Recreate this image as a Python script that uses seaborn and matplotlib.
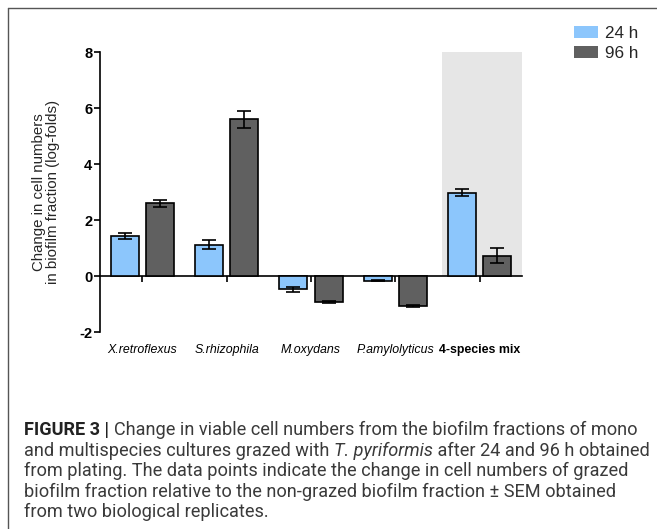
import matplotlib
matplotlib.use('Agg')
import matplotlib.pyplot as plt
from matplotlib.lines import Line2D
import pandas as pd
import seaborn as sns

# values (log-fold change, +/- SEM)
species = ['X.retroflexus', 'S.rhizophila', 'M.oxydans', 'P.amylolyticus', '4-species mix']
times = ['24 h', '96 h']
mean_24h = [1.42, 1.12, -0.48, -0.17, 2.97]
sem_24h = [0.10, 0.17, 0.08, 0.02, 0.12]
mean_96h = [2.60, 5.60, -0.93, -1.08, 0.73]
sem_96h = [0.12, 0.30, 0.02, 0.04, 0.28]
y_ticks = [-2, 0, 2, 4, 6, 8]

caption_lines = [
    [('FIGURE 3 | ', 'bold', 'normal'),
     ('Change in viable cell numbers from the biofilm fractions of mono', 'normal', 'normal')],
    [('and multispecies cultures grazed with ', 'normal', 'normal'),
     ('T. pyriformis', 'normal', 'italic'),
     (' after 24 and 96 h obtained', 'normal', 'normal')],
    [('from plating. The data points indicate the change in cell numbers of grazed', 'normal', 'normal')],
    [('biofilm fraction relative to the non-grazed biofilm fraction \u00b1 SEM obtained', 'normal', 'normal')],
    [('from two biological replicates.', 'normal', 'normal')],
]

df = pd.DataFrame({
    'species': species * 2,
    'time': [times[0]] * len(species) + [times[1]] * len(species),
    'value': mean_24h + mean_96h,
    'sem': sem_24h + sem_96h,
})

sns.set_theme(style='ticks')
plt.rcParams['font.family'] = ['Liberation Sans', 'DejaVu Sans']

fig = plt.figure(figsize=(6.57, 5.29), dpi=100)
ax = fig.add_axes([0.1522, 0.3724, 0.6423, 0.5293])

palette = {'24 h': '#8cc6fc', '96 h': '#606060'}
sns.barplot(data=df, x='species', y='value', hue='time', order=species,
            hue_order=times, palette=palette, errorbar=None, width=0.833,
            gap=0.2, edgecolor='black', linewidth=1.2, saturation=1,
            legend=False, ax=ax, zorder=3)

# error bars on the bars seaborn drew
for cont, t in zip(ax.containers, times):
    sub = df[df['time'] == t].set_index('species').loc[species]
    xs = [p.get_x() + p.get_width() / 2 for p in cont.patches]
    ax.errorbar(xs, sub['value'], yerr=sub['sem'], fmt='none', ecolor='black',
                elinewidth=1.2, capsize=4.8, capthick=1.2, zorder=4)

# grey background for the mixed culture
ax.axvspan(3.55, 4.5, ymin=0.2, ymax=1.0, color='#e6e6e6', lw=0, zorder=0)

ax.set_xlim(-0.5, 4.5)
ax.set_ylim(-2, 8)
ax.set_yticks(y_ticks)
ax.set_yticklabels([str(v) for v in y_ticks], fontweight='bold', fontsize=10.5)
ax.set_xlabel('')
ax.set_ylabel('Change in cell numbers\nin biofilm fraction (log-folds)',
              fontsize=10.8, labelpad=14, linespacing=1.0)

sns.despine(ax=ax, top=True, right=True)
ax.spines['bottom'].set_position(('data', 0))
for s in ['left', 'bottom']:
    ax.spines[s].set_linewidth(1.2)
    ax.spines[s].set_color('black')
ax.tick_params(axis='y', length=4, width=1.2, pad=1.5, colors='black')
ax.tick_params(axis='x', length=4, width=1.2, pad=45, colors='black')
ax.set_xticks(range(len(species)))
ax.set_xticklabels(species, fontsize=8.9)
for i, lab in enumerate(ax.get_xticklabels()):
    if i == len(species) - 1:
        lab.set_fontweight('bold')
    else:
        lab.set_fontstyle('italic')

handles = [plt.Rectangle((0, 0), 1, 1, fc=palette[t], ec='none') for t in times]
fig.legend(handles, times, loc='upper left', bbox_to_anchor=(0.873, 0.951),
           frameon=False, fontsize=12.3, handlelength=1.42, handleheight=0.65,
           handletextpad=0.4, labelspacing=0.3, borderpad=0, borderaxespad=0)

# page frame around the figure
fig.add_artist(Line2D([8 / 657, 1.0], [1 - 8 / 529] * 2, color='#555555', lw=1.0))
fig.add_artist(Line2D([8 / 657] * 2, [1 - 8 / 529, 0.0], color='#555555', lw=1.0))

# caption, drawn run by run
fig.canvas.draw()
renderer = fig.canvas.get_renderer()
cap_font = ['Roboto', 'DejaVu Sans']
y0 = 430
for k, runs in enumerate(caption_lines):
    x = 24 / 657
    y = 1 - (y0 + k * 20.5) / 529
    for txt, weight, style in runs:
        t = fig.text(x, y, txt, fontsize=13.1, fontweight=weight, fontstyle=style,
                     family=cap_font, color='#222222' if weight == 'bold' else '#3a3a3a',
                     va='center', ha='left')
        bb = t.get_window_extent(renderer)
        x = fig.transFigure.inverted().transform((bb.x1, bb.y0))[0]

fig.savefig('out.png', dpi=100)
